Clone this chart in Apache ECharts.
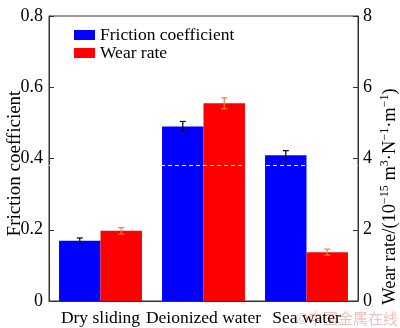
<!DOCTYPE html>
<html><head><meta charset="utf-8">
<script src="https://cdn.jsdelivr.net/npm/echarts@6/dist/echarts.min.js"></script>
<style>html,body{margin:0;padding:0;background:#fff}#c{width:400px;height:328px}</style>
</head><body><div id="c"></div>
<script>
var categories = ['Dry sliding', 'Deionized water', 'Sea water'];
var frictionValues = [0.169, 0.490, 0.409];
var frictionErrors = [0.008, 0.014, 0.013];
var wearValues = [1.97, 5.55, 1.37];
var wearErrors = [0.09, 0.155, 0.085];
var leftTicks = [0, 0.8, 0.2];
var rightTicks = [0, 8, 2];
var dashedLevel = 0.384;

var FONT = 'Liberation Serif';
var GAP = 0.195;
function errRenderer(sign, color) {
  return function (params, api) {
    var idx = api.value(0), v = api.value(1), e = api.value(2);
    var band = api.size([1, 0])[0];
    var bw = band * (1 - GAP) / 2;
    var c = api.coord([idx, v]);
    var x = c[0] + sign * bw / 2;
    var top = api.coord([idx, v + e])[1];
    var bot = api.coord([idx, v - e])[1];
    var hw = 3;
    var st = { stroke: color, lineWidth: 1.2 };
    return { type: 'group', children: [
      { type: 'line', shape: { x1: x, y1: top, x2: x, y2: bot }, style: st },
      { type: 'line', shape: { x1: x - hw, y1: top, x2: x + hw, y2: top }, style: st },
      { type: 'line', shape: { x1: x - hw, y1: bot, x2: x + hw, y2: bot }, style: st }
    ]};
  };
}
var chart = echarts.init(document.getElementById('c'));
chart.setOption({
  animation: false,
  textStyle: { fontFamily: FONT },
  grid: { left: 49, right: 42, top: 16, bottom: 27, show: true, borderColor: '#333', borderWidth: 1, containLabel: false, outerBoundsMode: 'none' },
  legend: {
    left: 69, top: 21, orient: 'vertical', itemWidth: 21, itemHeight: 10, itemGap: 0,
    textStyle: { fontFamily: FONT, fontSize: 17.5, color: '#000' },
    data: [{ name: 'Friction coefficient', icon: 'rect' }, { name: 'Wear rate', icon: 'rect' }]
  },
  graphic: [{ type: 'text', right: 2, bottom: 2, silent: true,
    style: { text: '\u00A9\u4E2D\u56FD\u91D1\u5C5E\u5728\u7EBF', fontFamily: 'Noto Sans CJK SC', fontSize: 15, fill: 'rgba(230,110,110,0.45)' } }],
  xAxis: {
    type: 'category', data: categories,
    axisLine: { lineStyle: { color: '#333' } }, axisTick: { show: false },
    axisLabel: { fontFamily: FONT, fontSize: 17.5, color: '#000', margin: 8, interval: 0 }
  },
  yAxis: [{
    type: 'value', min: leftTicks[0], max: leftTicks[1], interval: leftTicks[2],
    name: 'Friction coefficient', nameLocation: 'middle', nameGap: 24, nameRotate: 90, nameMoveOverlap: false,
    nameTextStyle: { fontFamily: FONT, fontSize: 19, color: '#000', padding: [0, 10, 0, 0] },
    axisLine: { show: true, lineStyle: { color: '#333' } },
    axisTick: { show: true, inside: true, length: 5, lineStyle: { color: '#333' } },
    axisLabel: { fontFamily: FONT, fontSize: 18, color: '#000', margin: 6 },
    splitLine: { show: false }
  }, {
    type: 'value', min: rightTicks[0], max: rightTicks[1], interval: rightTicks[2], position: 'right',
    name: '{a|Wear rate/(10}{s|\u221215}{a| m}{s|3}{a|\u00B7N}{s|\u22121}{a|\u00B7m}{s|\u22121}{a|)}',
    nameLocation: 'middle', nameGap: 21, nameRotate: 90, nameMoveOverlap: false,
    nameTextStyle: { fontFamily: FONT, fontSize: 18.5, color: '#000', padding: [0, 76, 0, 0],
      rich: {
        a: { fontFamily: FONT, fontSize: 18.5, color: '#000', lineHeight: 22 },
        s: { fontFamily: FONT, fontSize: 12, color: '#000', lineHeight: 14, verticalAlign: 'top' }
      } },
    axisLine: { show: true, lineStyle: { color: '#333' } },
    axisTick: { show: true, inside: true, length: 5, lineStyle: { color: '#333' } },
    axisLabel: { fontFamily: FONT, fontSize: 18, color: '#000', margin: 5 },
    splitLine: { show: false }
  }],
  series: [{
    name: 'Friction coefficient', type: 'bar', yAxisIndex: 0, data: frictionValues,
    itemStyle: { color: '#0000ff' }, barGap: '0%', barCategoryGap: (GAP * 100) + '%',
    markLine: { silent: true, symbol: 'none', label: { show: false },
      lineStyle: { color: '#fff', type: [4, 3], width: 1 }, data: [{ yAxis: dashedLevel }] }
  }, {
    name: 'Wear rate', type: 'bar', yAxisIndex: 1, data: wearValues,
    itemStyle: { color: '#ff0000' }, barGap: '0%', barCategoryGap: (GAP * 100) + '%'
  }, {
    type: 'custom', yAxisIndex: 0, z: 10,
    data: frictionValues.map(function (v, i) { return [i, v, frictionErrors[i]]; }),
    renderItem: errRenderer(-1, '#000')
  }, {
    type: 'custom', yAxisIndex: 1, z: 10,
    data: wearValues.map(function (v, i) { return [i, v, wearErrors[i]]; }),
    renderItem: errRenderer(1, '#f08020')
  }]
});
</script></body></html>
